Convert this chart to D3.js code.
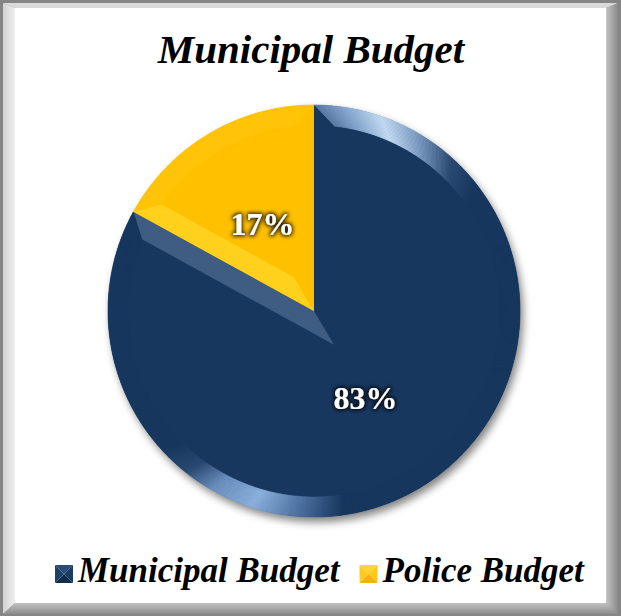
<!DOCTYPE html>
<html>
<head>
<meta charset="utf-8">
<script src="https://cdn.jsdelivr.net/npm/d3@7"></script>
<style>
  html, body { margin: 0; padding: 0; background: #ffffff; overflow: hidden; }
  svg { display: block; }
</style>
</head>
<body>
<svg id="chart" width="621" height="616"></svg>
<script>
// ---- data ----
const chartTitle = "Municipal Budget";
const categories = ["Municipal Budget", "Police Budget"];
const values = [83, 17];
const valueLabels = ["83%", "17%"];

// ---- styling ----
const baseColors = ["#17375E", "#FFC000"];
// bevel shading per slice: start edge, end edge, and colour stops along the rim (degrees)
const bevelStyles = [
  {
    startBand: "#17375E",
    endBand: "#3F5C82",
    rim: [[0, "#5B7BA3"], [8, "#86A7CF"], [19, "#C8DEF6"], [30, "#7E9DC4"], [42, "#2C4A72"],
          [52, "#17375E"], [172, "#17375E"], [185, "#4F73A3"], [198, "#8FB3E0"],
          [210, "#6C90C0"], [219, "#2A4971"], [228, "#17375E"], [360, "#17375E"]]
  },
  {
    startBand: "#FFD11C",
    endBand: "#FFC000",
    rim: [[0, "#FFC408"], [360, "#FFC408"]]
  }
];
const legendBevel = [
  ["#2A4B75", "#1A3A62", "#122C4C", "#1E4069"],
  ["#FFD52E", "#FFC814", "#F2B400", "#FFCB1F"]
];

const W = 621, H = 616;
const cx = 314, cy = 311, R = 206, bevel = 20;
const serif = "'Liberation Serif', 'Times New Roman', Times, serif";

const svg = d3.select("#chart");
const defs = svg.append("defs");

// ---- frame ----
const frameRight = defs.append("linearGradient").attr("id", "frameRight").attr("x1", 0).attr("x2", 1).attr("y1", 0).attr("y2", 0);
frameRight.append("stop").attr("offset", 0).attr("stop-color", "#C4C4C4");
frameRight.append("stop").attr("offset", 1).attr("stop-color", "#8A8A8A");
const frameBot = defs.append("linearGradient").attr("id", "frameBottom").attr("x1", 0).attr("x2", 0).attr("y1", 0).attr("y2", 1);
frameBot.append("stop").attr("offset", 0).attr("stop-color", "#C2C2C2");
frameBot.append("stop").attr("offset", 1).attr("stop-color", "#8C8C8C");
const frameLeft = defs.append("linearGradient").attr("id", "frameLeft").attr("x1", 0).attr("x2", 1).attr("y1", 0).attr("y2", 0);
frameLeft.append("stop").attr("offset", 0).attr("stop-color", "#D2D2D2");
frameLeft.append("stop").attr("offset", 1).attr("stop-color", "#EFEFEF");

const ox0 = 3, oy0 = 3, ox1 = 618, oy1 = 614;   // outer edge of bevel
const ix0 = 15, iy0 = 8, ix1 = 606, iy1 = 603;  // inner white panel
const frame = svg.append("g");
frame.append("rect").attr("x", 0).attr("y", 0).attr("width", W).attr("height", H).attr("fill", "#858585");
frame.append("polygon").attr("points", [[ox0, oy0], [ox1, oy0], [ix1, iy0], [ix0, iy0]].join(" ")).attr("fill", "#DADADA");
frame.append("polygon").attr("points", [[ox0, oy0], [ix0, iy0], [ix0, iy1], [ox0, oy1]].join(" ")).attr("fill", "url(#frameLeft)");
frame.append("polygon").attr("points", [[ox1, oy0], [ox1, oy1], [ix1, iy1], [ix1, iy0]].join(" ")).attr("fill", "url(#frameRight)");
frame.append("polygon").attr("points", [[ox0, oy1], [ix0, iy1], [ix1, iy1], [ox1, oy1]].join(" ")).attr("fill", "url(#frameBottom)");
frame.append("rect").attr("x", ix0).attr("y", iy0).attr("width", ix1 - ix0).attr("height", iy1 - iy0).attr("fill", "#FFFFFF");

// ---- filters ----
const shadow = defs.append("filter").attr("id", "pieShadow").attr("x", "-10%").attr("y", "-10%").attr("width", "125%").attr("height", "125%");
shadow.append("feGaussianBlur").attr("in", "SourceAlpha").attr("stdDeviation", 4).attr("result", "b");
shadow.append("feOffset").attr("in", "b").attr("dx", 3).attr("dy", 5).attr("result", "o");
shadow.append("feComponentTransfer").attr("in", "o").attr("result", "s")
  .append("feFuncA").attr("type", "linear").attr("slope", 0.5);

const glow = defs.append("filter").attr("id", "labelGlow").attr("x", "-30%").attr("y", "-40%").attr("width", "160%").attr("height", "180%");
glow.append("feMorphology").attr("in", "SourceAlpha").attr("operator", "dilate").attr("radius", 1.2).attr("result", "d");
glow.append("feGaussianBlur").attr("in", "d").attr("stdDeviation", 2).attr("result", "gb");
glow.append("feFlood").attr("flood-color", "#0B0B0B").attr("flood-opacity", 0.95).attr("result", "c");
glow.append("feComposite").attr("in", "c").attr("in2", "gb").attr("operator", "in").attr("result", "g");
const gm = glow.append("feMerge");
gm.append("feMergeNode").attr("in", "g");
gm.append("feMergeNode").attr("in", "SourceGraphic");

// ---- title ----
svg.append("text")
  .attr("x", 311).attr("y", 63)
  .attr("text-anchor", "middle")
  .attr("font-family", serif).attr("font-weight", "bold").attr("font-style", "italic")
  .attr("font-size", 41).attr("fill", "#000")
  .text(chartTitle);

// ---- pie ----
const pie = d3.pie().sort(null).value(d => d);
const arcs = pie(values);
const arcGen = d3.arc().innerRadius(0).outerRadius(R);

const g = svg.append("g").attr("transform", `translate(${cx},${cy})`);

// soft drop shadow under the whole pie
g.append("circle").attr("r", R).attr("fill", "#000").attr("filter", "url(#pieShadow)");

const pt = (r, a) => [r * Math.sin(a), -r * Math.cos(a)];
const deg = a => a * 180 / Math.PI;

arcs.forEach((d, i) => {
  const st = bevelStyles[i];
  const a0 = d.startAngle, a1 = d.endAngle;
  const sg = g.append("g").attr("class", "slice");

  // flat face of the slice
  sg.append("path").attr("d", arcGen(d)).attr("fill", baseColors[i]);

  // inset geometry for bevel bands
  const ri = R - bevel;
  const delta = Math.asin(bevel / ri);
  const b0 = a0 + delta, b1 = a1 - delta;
  // inner corner: intersection of both edges offset by the bevel width
  const n0 = [Math.cos(a0), Math.sin(a0)];
  const n1 = [-Math.cos(a1), -Math.sin(a1)];
  const det = n0[0] * n1[1] - n0[1] * n1[0];
  const corner = [bevel * (n1[1] - n0[1]) / det, bevel * (n0[0] - n1[0]) / det];

  // rim band, shaded along its length
  const rimColor = d3.scaleLinear()
    .domain(st.rim.map(s => s[0]))
    .range(st.rim.map(s => s[1]))
    .interpolate(d3.interpolateRgb)
    .clamp(true);
  const steps = Math.max(8, Math.ceil(deg(a1 - a0) / 0.5));
  const segs = d3.range(steps).map(k => {
    const t0 = a0 + (a1 - a0) * k / steps, t1 = a0 + (a1 - a0) * (k + 1) / steps;
    const s0 = b0 + (b1 - b0) * k / steps, s1 = b0 + (b1 - b0) * (k + 1) / steps;
    return { poly: [pt(R, t0), pt(R, t1), pt(ri, s1), pt(ri, s0)], mid: deg((t0 + t1) / 2) };
  });
  sg.selectAll("polygon.rim").data(segs).join("polygon")
    .attr("class", "rim")
    .attr("points", s => s.poly.map(p => p.join(",")).join(" "))
    .attr("fill", s => rimColor(s.mid))
    .attr("stroke", s => rimColor(s.mid))
    .attr("stroke-width", 0.6);

  // radial edge bands
  sg.append("polygon")
    .attr("points", [[0, 0], pt(R, a0), pt(ri, b0), corner].map(p => p.join(",")).join(" "))
    .attr("fill", st.startBand);
  sg.append("polygon")
    .attr("points", [[0, 0], pt(R, a1), pt(ri, b1), corner].map(p => p.join(",")).join(" "))
    .attr("fill", st.endBand);
});

// ---- value labels ----
const labelArc = d3.arc().innerRadius(R * 0.49).outerRadius(R * 0.49);
g.selectAll("text.value").data(arcs).join("text")
  .attr("class", "value")
  .attr("transform", d => `translate(${labelArc.centroid(d)})`)
  .attr("text-anchor", "middle")
  .attr("dy", "0.35em")
  .attr("font-family", serif).attr("font-weight", "bold")
  .attr("font-size", 32).attr("fill", "#FFFFFF")
  .attr("filter", "url(#labelGlow)")
  .text((d, i) => valueLabels[i]);

// ---- legend ----
const legend = svg.append("g");
const box = 18;
let lx = 55;
const ly = 565;
categories.forEach((name, i) => {
  const item = legend.append("g").attr("transform", `translate(${lx},${ly})`);
  const c = [box / 2, box / 2];
  const quads = [
    [[0, 0], [box, 0], c],
    [[box, 0], [box, box], c],
    [[box, box], [0, box], c],
    [[0, box], [0, 0], c]
  ];
  item.selectAll("polygon").data(quads).join("polygon")
    .attr("points", q => q.map(p => p.join(",")).join(" "))
    .attr("fill", (q, k) => legendBevel[i][k]);
  const t = item.append("text")
    .attr("x", box + 5).attr("y", 17)
    .attr("font-family", serif).attr("font-weight", "bold").attr("font-style", "italic")
    .attr("font-size", 35).attr("fill", "#000")
    .text(name);
  lx += box + 5 + t.node().getComputedTextLength() + 20;
});
</script>
</body>
</html>
